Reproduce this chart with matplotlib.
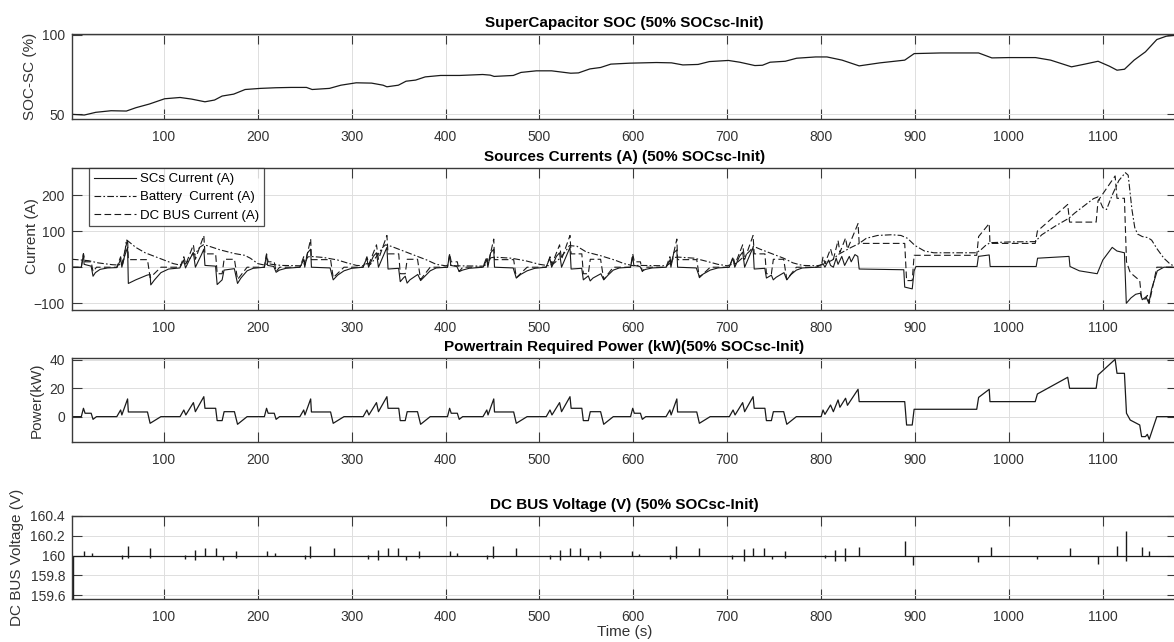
import matplotlib
matplotlib.use("Agg")
import matplotlib.pyplot as plt

plt.rcParams['font.family'] = ['Liberation Sans', 'DejaVu Sans']

# ---- SuperCapacitor SOC (%) ----
soc_t = [2.9, 15.2, 27.4, 43.7, 60.0, 70.2, 84.5, 100.8, 117.2, 129.4, 143.7, 153.9, 162.0,
         174.3, 186.5, 202.8, 219.2, 235.5, 251.8, 257.9, 276.3, 288.5, 304.8, 321.2, 333.4,
         337.5, 349.7, 357.9, 368.1, 378.3, 394.6, 415.0, 439.5, 447.6, 451.7, 472.1, 480.3,
         496.6, 512.9, 533.3, 541.5, 553.7, 565.1, 576.0, 596.2, 624.5, 640.6, 652.7, 668.9,
         681.0, 701.2, 713.3, 729.4, 737.5, 745.6, 761.8, 773.9, 794.1, 806.2, 822.3, 840.5,
         862.7, 889.0, 899.1, 927.3, 967.7, 981.8, 1000.0, 1028.3, 1044.4, 1066.6, 1080.8,
         1094.9, 1107.0, 1115.1, 1123.1, 1133.3, 1145.4, 1157.5, 1167.6, 1178.0]
soc = [50.0, 49.6, 51.3, 52.3, 52.1, 54.2, 56.5, 59.8, 60.6, 59.6, 57.9, 59.0, 61.5,
       62.7, 65.6, 66.3, 66.7, 66.9, 66.9, 65.6, 66.3, 68.3, 69.8, 69.6, 68.3,
       67.3, 68.3, 70.8, 71.5, 73.5, 74.4, 74.4, 75.0, 74.6, 73.8, 74.4, 76.3,
       77.3, 77.3, 75.8, 76.0, 78.5, 79.4, 81.5, 82.1, 82.5, 82.3, 81.0, 81.3,
       83.1, 83.8, 82.7, 80.6, 80.8, 82.7, 83.3, 85.2, 86.0, 86.0, 84.0, 80.4,
       82.3, 84.0, 88.1, 88.5, 88.5, 85.4, 85.6, 85.6, 84.0, 79.8, 81.5,
       83.3, 80.2, 77.7, 78.3, 84.0, 89.2, 96.9, 99.0, 99.6]

# ---- Powertrain required power (kW) and DC bus current (A), same time base ----
pw_t = [2, 12, 14.3, 16, 22.5, 24.5, 28.2, 49.8, 53.9, 55.2, 61.3, 62.1, 82.5, 85.3, 96.8,
        117.2, 121.2, 123.3, 131.4, 133.5, 142.5, 143.7, 155.1, 156.7, 162, 164.1, 175.1, 178.4, 188.6,
        207, 209.3, 211, 217.5, 219.5, 223.2, 244.8, 248.9, 250.2, 256.3, 257.1, 277.5, 280.3, 291.8,
        312.2, 316.2, 318.3, 326.4, 328.5, 337.5, 338.7, 350.1, 351.7, 357, 359.1, 370.1, 373.4, 383.6,
        402, 404.3, 406, 412.5, 414.5, 418.2, 439.8, 443.9, 445.2, 451.3, 452.1, 472.5, 475.3, 486.8,
        507.2, 511.2, 513.3, 521.4, 523.5, 532.5, 533.7, 545.1, 546.7, 552, 554.1, 565.1, 568.4, 578.6,
        597, 599.3, 601, 607.5, 609.5, 613.2, 634.8, 638.9, 640.2, 646.3, 647.1, 667.5, 670.3, 681.8,
        702.2, 706.2, 708.3, 716.4, 718.5, 727.5, 728.7, 740.1, 741.7, 747, 749.1, 760.1, 763.4, 773.6,
        800, 802, 804, 810, 813, 818, 820, 826, 828, 839.3, 840.5, 889, 891, 897, 899, 965.7,
        967.7, 979, 979.8, 1028, 1030.3, 1062.6, 1064.6, 1092.9, 1094.9, 1113.1, 1115.1, 1123,
        1125.2, 1129.2, 1139.3, 1141.3, 1145.4, 1147.4, 1149.4, 1157.5, 1179]
power_kw = [0, 0, 5.9, 2.4, 2.4, -1.9, 0, 0, 4.7, 1.2, 12.5, 3.3, 3.3, -4.7, 0,
            0, 4.7, 1.2, 9.9, 3.5, 14.1, 5.9, 5.9, -2.8, -2.8, 3.5, 3.5, -5.4, 0,
            0, 5.9, 2.4, 2.4, -1.9, 0, 0, 4.7, 1.2, 12.5, 3.3, 3.3, -4.7, 0,
            0, 4.7, 1.2, 9.9, 3.5, 14.1, 5.9, 5.9, -2.8, -2.8, 3.5, 3.5, -5.4, 0,
            0, 5.9, 2.4, 2.4, -1.9, 0, 0, 4.7, 1.2, 12.5, 3.3, 3.3, -4.7, 0,
            0, 4.7, 1.2, 9.9, 3.5, 14.1, 5.9, 5.9, -2.8, -2.8, 3.5, 3.5, -5.4, 0,
            0, 5.9, 2.4, 2.4, -1.9, 0, 0, 4.7, 1.2, 12.5, 3.3, 3.3, -4.7, 0,
            0, 4.7, 1.2, 9.9, 3.5, 14.1, 5.9, 5.9, -2.8, -2.8, 3.5, 3.5, -5.4, 0,
            0, 4.7, 1.6, 8.2, 3.5, 11.8, 6.6, 13.0, 8.0, 19.3, 10.6, 10.6, -5.9, -5.9, 5.2, 5.2,
            13.6, 19.3, 10.6, 10.6, 16.0, 27.8, 20.0, 20.0, 29.4, 40.5, 30.6, 30.6,
            2.4, -2.4, -5.9, -14.1, -14.1, -12.5, -16.0, 0, 0]
i_dc = [0, 0, 37, 15, 15, -12, 0, 0, 29, 8, 78, 21, 21, -29, 0,
        0, 29, 8, 62, 22, 88, 37, 37, -18, -18, 22, 22, -34, 0,
        0, 37, 15, 15, -12, 0, 0, 29, 8, 78, 21, 21, -29, 0,
        0, 29, 8, 62, 22, 88, 37, 37, -18, -18, 22, 22, -34, 0,
        0, 37, 15, 15, -12, 0, 0, 29, 8, 78, 21, 21, -29, 0,
        0, 29, 8, 62, 22, 88, 37, 37, -18, -18, 22, 22, -34, 0,
        0, 37, 15, 15, -12, 0, 0, 29, 8, 78, 21, 21, -29, 0,
        0, 29, 8, 62, 22, 88, 37, 37, -18, -18, 22, 22, -34, 0,
        0, 29, 10, 51, 22, 74, 41, 81, 50, 121, 66, 66, -37, -37, 33, 33,
        85, 121, 66, 66, 100, 174, 125, 125, 184, 253, 191, 191,
        15, -15, -37, -88, -88, -78, -100, 0, 0]

# ---- Battery current (A) ----
bat_t = [2, 12, 20, 30, 45, 52, 54, 56, 58, 60, 62, 70, 80, 90, 100, 110, 117, 121, 123, 128,
         131, 133, 138, 142, 146, 160, 175, 186, 192, 200, 207,
         209, 211, 215, 225, 245, 250, 253, 256, 270, 285, 295, 305, 312, 316, 320, 325, 328,
         333, 336, 342, 355, 370, 380, 390, 400,
         405, 410, 440, 445, 448, 452, 470, 485, 500, 510, 515, 522, 528, 532, 540, 550, 565,
         580, 590, 600,
         605, 635, 640, 643, 648, 665, 680, 690, 700, 710, 718, 724, 728, 735, 745, 760, 770,
         780, 795,
         800, 806, 812, 818, 825, 832, 840, 848, 860, 875, 885, 892, 900, 910, 920, 965, 970,
         975, 980, 1000, 1028, 1035, 1050, 1064, 1070, 1080, 1090, 1095, 1100, 1104, 1110,
         1117, 1124, 1127, 1131, 1134, 1137, 1142, 1148, 1152, 1158, 1165, 1172, 1179]
i_bat = [22, 20, 18, 12, 7, 6, 10, 8, 30, 76, 72, 55, 40, 30, 20, 10, 6, 12, 9, 25,
         40, 35, 55, 62, 60, 48, 38, 33, 25, 10, 6,
         8, 10, 8, 5, 4, 10, 28, 30, 27, 20, 12, 5, 4, 10, 8, 25, 35,
         55, 62, 58, 45, 30, 20, 8, 4,
         6, 4, 3, 10, 26, 28, 25, 18, 8, 4, 10, 25, 45, 60, 58, 42, 32,
         20, 10, 4,
         5, 4, 12, 27, 28, 25, 15, 8, 4, 12, 30, 45, 58, 50, 40, 25, 12,
         5, 4,
         6, 12, 20, 35, 45, 55, 65, 80, 88, 90, 88, 80, 60, 45, 40, 40, 48,
         60, 68, 70, 71, 90, 115, 136, 150, 170, 190, 195, 165, 160, 200,
         240, 262, 255, 160, 110, 92, 85, 82, 75, 50, 25, 8, 0]

# ---- SCs current (A) ----
sc_t = [2, 12, 13, 14.3, 15, 22.5, 24.5, 27, 32, 40, 50, 54, 55.2, 58, 61.3, 62.1, 70, 82, 85.3,
        86, 90, 96.8, 105, 117, 121, 123, 128, 131.4, 133.5, 140, 142.5, 143.7, 155, 156.7, 160,
        162, 164, 175, 178.4, 182, 188.6, 195,
        207, 209.3, 210.5, 217, 219.5, 223, 230, 245, 249, 250, 253, 256.3, 257.1, 277, 280.3,
        285, 291.8, 300, 312, 316, 318, 323, 326.4, 328.5, 335, 337.5, 338.7, 350, 351.7, 355,
        357, 359, 362, 370.4, 373.4, 378, 383.6, 390,
        402, 404.3, 405.5, 412, 414.5, 418, 425, 440, 444, 445, 448, 451.3, 452.1, 472, 475.3,
        480, 486.8, 495, 507, 511, 513, 518, 521.4, 523.5, 530, 532.5, 533.7, 545, 546.7, 550,
        552, 554, 557, 565.4, 568.4, 573, 578.6, 585,
        597, 599.3, 600.5, 607, 609.5, 613, 620, 635, 639, 640, 643, 646.3, 647.1, 667, 670.3,
        675, 681.8, 690, 702, 706, 708, 713, 716.4, 718.5, 725, 727.5, 728.7, 740, 741.7, 745,
        747, 749, 752, 760.4, 763.4, 768, 773.6, 780,
        795, 802, 804, 808, 810, 813, 816, 818, 822, 825, 830, 832, 836, 839, 840.5, 888, 889,
        897, 899, 901, 966, 967.5, 979, 980, 1029, 1030.5, 1064, 1065, 1075, 1094, 1100, 1110,
        1115, 1123, 1125, 1130, 1135, 1140, 1142, 1146, 1149, 1152, 1158, 1165, 1179]
i_sc = [0, 0, 15, 38, 8, 3, -25, -15, -6, -2, -1, 22, 0, 30, 55, -45, -35, -22, -20,
        -49, -35, -15, -5, -2, 20, -2, 25, 40, 0, 35, 50, 5, 3, -48, -40,
        -35, -8, -4, -45, -30, -10, -3,
        0, 35, 5, 2, -14, -8, -3, 0, 22, 0, 40, 50, 0, -2, -35,
        -22, -10, -3, 0, 25, 0, 30, 40, 0, 40, 55, -5, -3, -40, -30,
        -25, -44, -35, -20, -37, -25, -10, -2,
        0, 35, 5, 2, -12, -8, -3, 0, 22, 0, 40, 50, 0, -2, -30,
        -20, -10, -3, 0, 25, 0, 30, 40, 0, 40, 55, -5, -3, -35, -28,
        -24, -38, -30, -18, -35, -22, -8, -2,
        0, 30, 5, 2, -10, -6, -2, 0, 20, 0, 40, 48, 0, -2, -26,
        -18, -8, -2, 0, 25, 0, 30, 42, 0, 40, 55, -5, -3, -30, -25,
        -22, -35, -28, -15, -35, -20, -8, -2,
        0, 10, 0, 20, 5, 0, 25, 8, 30, 5, 30, 15, 35, 30, -5, -7, -55,
        -60, -10, 2, 2, 30, 34, 2, 2, 25, 30, 2, -10, -18, 20, 55,
        45, 40, -100, -85, -75, -72, -90, -82, -100, -60, -10, 0, 0]

# ---- DC bus voltage (V): flat 160 V with short transients ----
v_base_t = [2, 1179]
v_base = [160, 160]
spike_t = [2.8, 15.2, 23.3, 55.1, 61.3, 85.7, 122.5, 133.5, 143.7, 155.1, 163.3, 177,
           210.2, 218.5, 249.8, 255.9, 281.2, 317, 328.5, 338.3, 349.7, 357.9, 372.2,
           404.8, 412.1, 444.4, 450.5, 475, 510.9, 522.3, 532.5, 543.5, 551.7, 564,
           598.2, 606.3, 638.6, 645.5, 669.7, 705.2, 717.3, 727.4, 739.5, 747.6, 761.8,
           804.1, 815, 825.2, 840.5, 889.8, 898.2, 966.9, 980.6, 1030.3, 1064.6, 1094.9,
           1115.1, 1125.2, 1141.3, 1149.4]
spike_hi = [160, 160.05, 160.027, 160.01, 160.093, 160.077, 160.01, 160.06, 160.077, 160.077, 160, 160.043,
            160.05, 160.027, 160.01, 160.1, 160.077, 160.01, 160.06, 160.077, 160.077, 160, 160.043,
            160.05, 160.027, 160.01, 160.093, 160.077, 160.01, 160.06, 160.077, 160.077, 160, 160.043,
            160.043, 160.02, 160.01, 160.093, 160.077, 160.01, 160.067, 160.077, 160.077, 160, 160.043,
            160.01, 160.06, 160.077, 160.087, 160.15, 160, 160, 160.087, 160, 160.077, 160,
            160.1, 160.243, 160.087, 160.043]
spike_lo = [159.5, 160, 160, 159.96, 159.977, 159.977, 159.967, 159.953, 160, 159.99, 159.953, 159.977,
            160, 160, 159.96, 159.977, 159.99, 159.967, 159.953, 160, 159.99, 159.953, 159.977,
            160, 160, 159.96, 159.977, 159.99, 159.967, 159.953, 160, 159.99, 159.953, 159.977,
            160, 160, 159.967, 159.977, 159.99, 159.967, 159.943, 160, 159.99, 159.96, 159.977,
            159.977, 159.943, 159.943, 160, 160, 159.9, 159.933, 160, 159.96, 160, 159.91,
            160, 159.943, 160, 160]

xticks = [100, 200, 300, 400, 500, 600, 700, 800, 900, 1000, 1100]
line_col = '#1a1a1a'
txt_col = '#333333'

fig = plt.figure(figsize=(11.74, 6.42), dpi=100)
left, width = 72 / 1174, 1105 / 1174
ax1 = fig.add_axes([left, 0.8146, width, 0.1320])
ax2 = fig.add_axes([left, 0.5171, width, 0.2217])
ax3 = fig.add_axes([left, 0.3111, width, 0.1308])
ax4 = fig.add_axes([left, 0.0670, width, 0.1293])


def style(ax, yticks, ylim, title):
    ax.set_xlim(2.1, 1179)
    ax.set_ylim(*ylim)
    ax.set_xticks(xticks)
    ax.set_yticks(yticks)
    ax.grid(True, color='#dedede', linewidth=0.7)
    ax.set_axisbelow(True)
    ax.tick_params(direction='in', top=True, right=True, length=7, width=0.8,
                   color='#3a3a3a', labelsize=10, labelcolor=txt_col)
    ax.tick_params(axis='x', pad=8)
    ax.tick_params(axis='y', pad=5)
    for s in ax.spines.values():
        s.set_color('#3a3a3a')
        s.set_linewidth(1.0)
    ax.set_title(title, fontsize=11, fontweight='bold', color='black', pad=5)


# SOC
ax1.plot(soc_t, soc, color=line_col, lw=0.9)
style(ax1, [50, 100], (47.1, 100.2), 'SuperCapacitor SOC (50% SOCsc-Init)')
fig.text(30 / 1174, 1 - 76.5 / 642, 'SOC-SC (%)', rotation=90, ha='center', va='center',
         fontsize=11, color=txt_col)

# Currents
ax2.plot(sc_t, i_sc, color=line_col, lw=0.8, ls='-', label='SCs Current (A)')
ax2.plot(bat_t, i_bat, color=line_col, lw=0.8, ls=(0, (6, 2, 1.5, 2)), label='Battery  Current (A)')
ax2.plot(pw_t, i_dc, color=line_col, lw=0.8, ls=(0, (6, 3)), label='DC BUS Current (A)')
style(ax2, [-100, 0, 100, 200], (-118.6, 275.8), 'Sources Currents (A) (50% SOCsc-Init)')
leg = ax2.legend(loc='upper left', bbox_to_anchor=(0.0154, 0.995), borderaxespad=0,
                 fontsize=9.5, frameon=True, fancybox=False, edgecolor='#222222',
                 handlelength=3.2, handletextpad=0.3, labelspacing=0.45, borderpad=0.35)
leg.get_frame().set_linewidth(0.9)
fig.text(32 / 1174, 1 - 236 / 642, 'Current (A)', rotation=90, ha='center', va='center',
         fontsize=11, color=txt_col)

# Power
ax3.plot(pw_t, power_kw, color=line_col, lw=0.9)
style(ax3, [0, 20, 40], (-18.1, 41.2), 'Powertrain Required Power (kW)(50% SOCsc-Init)')
fig.text(37 / 1174, 1 - 400 / 642, 'Power(kW)', rotation=90, ha='center', va='center',
         fontsize=11, color=txt_col)

# DC bus voltage
ax4.plot(v_base_t, v_base, color=line_col, lw=0.9)
ax4.vlines(spike_t, spike_lo, spike_hi, color=line_col, lw=1.0)
style(ax4, [159.6, 159.8, 160, 160.2, 160.4], (159.56, 160.4), 'DC BUS Voltage (V) (50% SOCsc-Init)')
ax4.set_yticklabels(['159.6', '159.8', '160', '160.2', '160.4'])
fig.text(17 / 1174, 1 - 557 / 642, 'DC BUS Voltage (V)', rotation=90, ha='center', va='center',
         fontsize=11, color=txt_col)
ax4.set_xlabel('Time (s)', fontsize=11, color=txt_col, labelpad=1)

fig.savefig('out.png', dpi=100)
